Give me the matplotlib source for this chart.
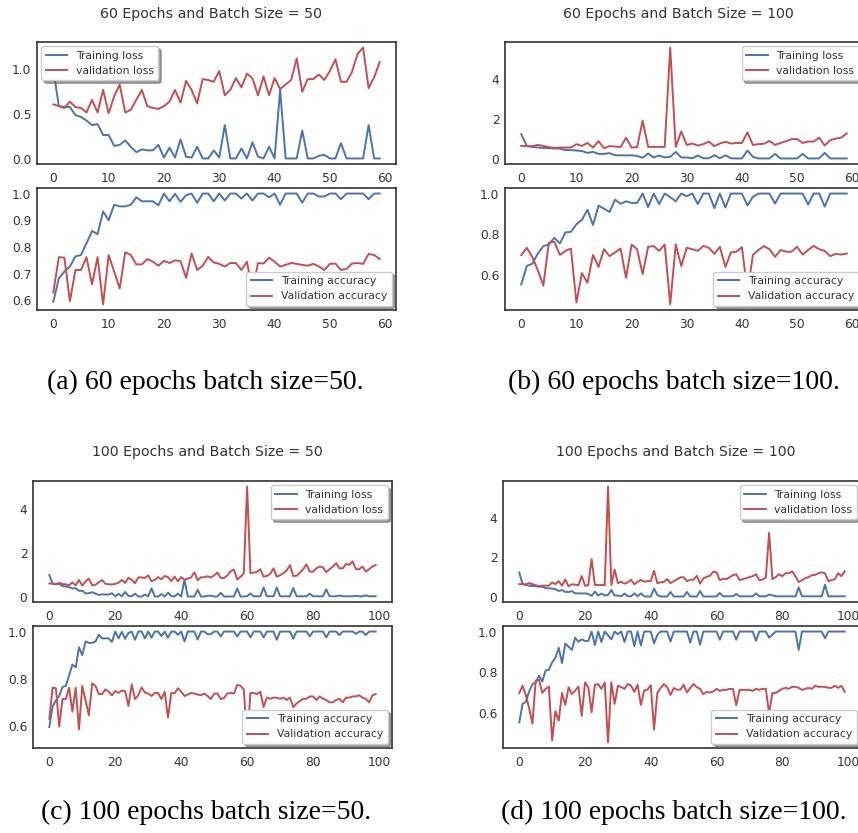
import matplotlib
matplotlib.use("Agg")
import matplotlib.pyplot as plt
import numpy as np

# ---- data ----
# 60 epochs, batch 50
tl_a = [1.00, 0.59, 0.58, 0.58, 0.49, 0.47, 0.43, 0.38, 0.39, 0.27,
        0.27, 0.15, 0.16, 0.21, 0.14, 0.08, 0.11, 0.10, 0.10, 0.16,
        0.02, 0.13, 0.02, 0.22, 0.03, 0.02, 0.14, 0.01, 0.01, 0.10,
        0.02, 0.38, 0.01, 0.01, 0.12, 0.01, 0.19, 0.03, 0.01, 0.14,
        0.01, 0.77, 0.01, 0.01, 0.01, 0.32, 0.01, 0.01, 0.04, 0.05,
        0.01, 0.01, 0.18, 0.01, 0.01, 0.01, 0.01, 0.38, 0.01, 0.01]
vl_a = [0.61, 0.59, 0.57, 0.64, 0.58, 0.57, 0.52, 0.66, 0.52, 0.77,
        0.51, 0.70, 0.83, 0.52, 0.55, 0.66, 0.77, 0.59, 0.57, 0.56,
        0.59, 0.64, 0.77, 0.63, 0.87, 0.77, 0.62, 0.89, 0.88, 0.86,
        0.98, 0.71, 0.77, 0.90, 0.80, 0.95, 0.90, 0.71, 0.92, 0.71,
        0.90, 0.78, 0.83, 0.88, 1.12, 0.75, 0.89, 0.89, 0.94, 0.88,
        0.98, 1.11, 0.86, 0.86, 0.97, 1.17, 1.24, 0.79, 0.91, 1.08]
ta_a = [0.595, 0.683, 0.708, 0.727, 0.765, 0.770, 0.814, 0.860, 0.848, 0.933,
        0.900, 0.958, 0.952, 0.952, 0.958, 0.986, 0.971, 0.971, 0.971, 0.956,
        1.000, 0.971, 0.999, 0.969, 0.994, 1.000, 0.965, 1.000, 1.000, 0.971,
        1.000, 0.974, 1.000, 1.000, 0.981, 1.000, 0.974, 1.000, 1.000, 0.986,
        1.000, 0.958, 1.000, 1.000, 1.000, 0.966, 1.000, 1.000, 0.989, 0.989,
        1.000, 1.000, 0.979, 1.000, 1.000, 1.000, 1.000, 0.979, 1.000, 1.000]
va_a = [0.630, 0.762, 0.760, 0.597, 0.714, 0.714, 0.762, 0.660, 0.762, 0.585,
        0.770, 0.708, 0.645, 0.780, 0.770, 0.735, 0.735, 0.755, 0.745, 0.730,
        0.748, 0.740, 0.750, 0.747, 0.685, 0.776, 0.714, 0.730, 0.763, 0.742,
        0.737, 0.727, 0.740, 0.740, 0.714, 0.745, 0.635, 0.740, 0.738, 0.760,
        0.745, 0.727, 0.733, 0.740, 0.737, 0.733, 0.730, 0.737, 0.727, 0.714,
        0.737, 0.738, 0.714, 0.718, 0.738, 0.740, 0.737, 0.774, 0.770, 0.755]

# 60 epochs, batch 100
tl_b = [1.24, 0.65, 0.60, 0.57, 0.55, 0.54, 0.52, 0.52, 0.44, 0.44,
        0.42, 0.39, 0.30, 0.35, 0.25, 0.25, 0.29, 0.18, 0.18, 0.17,
        0.18, 0.15, 0.05, 0.27, 0.07, 0.17, 0.07, 0.10, 0.35, 0.07,
        0.07, 0.03, 0.17, 0.03, 0.03, 0.18, 0.03, 0.18, 0.03, 0.02,
        0.02, 0.42, 0.10, 0.02, 0.02, 0.02, 0.25, 0.02, 0.02, 0.02,
        0.02, 0.25, 0.02, 0.02, 0.02, 0.30, 0.02, 0.02, 0.02, 0.02]
vl_b = [0.65, 0.64, 0.64, 0.70, 0.65, 0.59, 0.55, 0.57, 0.57, 0.57,
        0.74, 0.65, 0.80, 0.57, 0.89, 0.54, 0.64, 0.62, 0.59, 1.06,
        0.57, 0.59, 1.92, 0.60, 0.60, 0.60, 0.60, 5.60, 0.60, 1.38,
        0.70, 0.77, 0.67, 0.74, 0.87, 0.64, 0.77, 0.86, 0.77, 0.80,
        0.80, 1.33, 0.70, 0.74, 0.76, 0.90, 0.70, 0.80, 0.89, 0.99,
        1.00, 0.80, 0.87, 0.87, 1.07, 0.67, 0.94, 1.02, 1.07, 1.28]
ta_b = [0.556, 0.646, 0.657, 0.707, 0.743, 0.751, 0.784, 0.756, 0.810, 0.813,
        0.850, 0.872, 0.921, 0.846, 0.941, 0.926, 0.910, 0.970, 0.950, 0.962,
        0.954, 0.954, 1.000, 0.934, 1.000, 0.949, 1.000, 0.982, 0.962, 1.000,
        0.987, 1.000, 0.949, 1.000, 1.000, 0.929, 1.000, 0.932, 1.000, 1.000,
        1.000, 0.942, 0.984, 1.000, 1.000, 1.000, 0.951, 1.000, 1.000, 1.000,
        1.000, 1.000, 0.946, 1.000, 1.000, 0.936, 1.000, 1.000, 1.000, 1.000]
va_b = [0.699, 0.735, 0.690, 0.625, 0.550, 0.760, 0.764, 0.700, 0.720, 0.731,
        0.468, 0.611, 0.564, 0.700, 0.641, 0.728, 0.694, 0.712, 0.731, 0.588,
        0.751, 0.728, 0.606, 0.740, 0.743, 0.720, 0.751, 0.458, 0.752, 0.646,
        0.735, 0.728, 0.720, 0.744, 0.735, 0.705, 0.740, 0.641, 0.712, 0.716,
        0.738, 0.520, 0.700, 0.724, 0.743, 0.728, 0.690, 0.724, 0.716, 0.716,
        0.740, 0.702, 0.724, 0.744, 0.728, 0.720, 0.694, 0.705, 0.702, 0.707]

# 100 epoch runs: first 60 epochs look the same as the 60 epoch runs,
# these are epochs 60..99
tl_c_end = [0.02, 0.15, 0.02, 0.02, 0.02, 0.42, 0.02, 0.02, 0.02, 0.42,
            0.02, 0.02, 0.02, 0.02, 0.40, 0.02, 0.02, 0.02, 0.02, 0.14,
            0.02, 0.02, 0.02, 0.02, 0.34, 0.02, 0.02, 0.02, 0.06, 0.02,
            0.02, 0.02, 0.02, 0.04, 0.02, 0.02, 0.06, 0.02, 0.02, 0.02]
vl_c_end = [5.05, 1.08, 1.10, 1.14, 1.26, 0.92, 0.95, 1.05, 1.30, 0.92,
            0.98, 1.08, 1.20, 1.45, 0.95, 0.96, 1.10, 1.26, 1.48, 1.15,
            1.15, 1.30, 1.38, 1.35, 1.12, 1.26, 1.38, 1.54, 1.30, 1.30,
            1.50, 1.46, 1.62, 1.26, 1.26, 1.38, 1.15, 1.26, 1.38, 1.45]
ta_c_end = [1.000, 0.975, 1.000, 1.000, 1.000, 0.975, 1.000, 1.000, 1.000, 0.965,
            1.000, 1.000, 1.000, 1.000, 0.970, 1.000, 1.000, 1.000, 1.000, 0.980,
            1.000, 1.000, 1.000, 1.000, 0.975, 1.000, 1.000, 1.000, 0.985, 1.000,
            1.000, 1.000, 1.000, 0.990, 1.000, 1.000, 0.985, 1.000, 1.000, 1.000]
va_c_end = [0.530, 0.740, 0.740, 0.735, 0.745, 0.680, 0.720, 0.715, 0.720, 0.720,
            0.715, 0.720, 0.710, 0.720, 0.680, 0.695, 0.705, 0.715, 0.715, 0.725,
            0.725, 0.710, 0.725, 0.715, 0.710, 0.700, 0.700, 0.710, 0.715, 0.700,
            0.720, 0.720, 0.725, 0.725, 0.730, 0.720, 0.715, 0.700, 0.730, 0.735]

tl_d_end = [0.03, 0.20, 0.03, 0.03, 0.03, 0.03, 0.15, 0.03, 0.03, 0.03,
            0.03, 0.03, 0.18, 0.03, 0.03, 0.03, 0.12, 0.08, 0.03, 0.03,
            0.03, 0.03, 0.03, 0.03, 0.03, 0.48, 0.03, 0.03, 0.03, 0.03,
            0.03, 0.03, 0.03, 0.62, 0.03, 0.03, 0.03, 0.03, 0.03, 0.03]
vl_d_end = [1.25, 0.85, 0.92, 0.90, 1.00, 1.10, 1.15, 0.85, 0.90, 0.95,
            1.00, 1.05, 1.15, 0.85, 0.88, 0.98, 3.25, 0.90, 1.00, 1.15,
            1.05, 1.20, 1.20, 1.30, 1.05, 0.75, 0.85, 0.95, 1.00, 1.10,
            1.12, 1.20, 1.25, 1.20, 0.80, 0.85, 0.90, 1.20, 1.05, 1.30]
ta_d_end = [1.000, 0.960, 1.000, 1.000, 1.000, 1.000, 0.960, 1.000, 1.000, 1.000,
            1.000, 1.000, 0.955, 1.000, 1.000, 1.000, 0.970, 0.985, 1.000, 1.000,
            1.000, 1.000, 1.000, 1.000, 1.000, 0.910, 1.000, 1.000, 1.000, 1.000,
            1.000, 1.000, 1.000, 0.967, 1.000, 1.000, 1.000, 1.000, 1.000, 1.000]
va_d_end = [0.720, 0.710, 0.715, 0.715, 0.720, 0.720, 0.640, 0.715, 0.715, 0.715,
            0.715, 0.710, 0.720, 0.715, 0.720, 0.720, 0.600, 0.700, 0.700, 0.710,
            0.720, 0.725, 0.720, 0.730, 0.730, 0.725, 0.715, 0.720, 0.725, 0.720,
            0.735, 0.730, 0.730, 0.730, 0.725, 0.725, 0.735, 0.725, 0.735, 0.705]

titles = ["60 Epochs and Batch Size = 50", "60 Epochs and Batch Size = 100",
          "100 Epochs and Batch Size = 50", "100 Epochs and Batch Size = 100"]
captions = ["(a) 60 epochs batch size=50.", "(b) 60 epochs batch size=100.",
            "(c) 100 epochs batch size=50.", "(d) 100 epochs batch size=100."]
loss_ticks = [[0.0, 0.5, 1.0], [0, 2, 4], [0, 2, 4], [0, 2, 4]]
acc_ticks = [[0.6, 0.7, 0.8, 0.9, 1.0], [0.6, 0.8, 1.0], [0.6, 0.8, 1.0], [0.6, 0.8, 1.0]]

runs = [
    (tl_a, vl_a, ta_a, va_a),
    (tl_b, vl_b, ta_b, va_b),
    (tl_a + tl_c_end, vl_a + vl_c_end, ta_a + ta_c_end, va_a + va_c_end),
    (tl_b + tl_d_end, vl_b + vl_d_end, ta_b + ta_d_end, va_b + va_d_end),
]

BLUE = "#4C72B0"
RED = "#C44E52"
W, H = 858, 833

# pixel boxes (left, right, loss top, loss bottom, acc top, acc bottom)
boxes = [(37, 396, 42, 164, 188, 310),
         (505, 863, 42, 164, 188, 310),
         (33, 392, 481, 602, 626, 748),
         (503, 861, 481, 602, 626, 748)]
title_pos = [(211, 14), (678, 14), (207, 452), (676, 452)]
cap_pos = [(205, 382), (674, 382), (206, 812), (674, 812)]
loss_loc = ["upper left", "upper right", "upper right", "upper right"]


def add_ax(fig, l, r, t, b):
    return fig.add_axes([l / W, 1 - b / H, (r - l) / W, (b - t) / H])


def style(ax, yt):
    for s in ax.spines.values():
        s.set_color("#333333")
        s.set_linewidth(1.2)
    ax.tick_params(length=0, labelsize=8.8, colors="#333333")
    ax.tick_params(axis="x", pad=6)
    ax.tick_params(axis="y", pad=4)
    ax.set_yticks(yt)


def legend(ax, loc):
    lg = ax.legend(loc=loc, fontsize=7.8, frameon=True, shadow=True,
                   fancybox=True, borderaxespad=0.4)
    lg.get_frame().set_edgecolor("#cccccc")
    lg.get_frame().set_facecolor("white")
    for t in lg.get_texts():
        t.set_color("#333333")


fig = plt.figure(figsize=(W / 100, H / 100), dpi=100)

for i, (tl, vl, ta, va) in enumerate(runs):
    l, r, lt, lb, at, ab = boxes[i]
    ep = np.arange(len(tl))

    ax1 = add_ax(fig, l, r, lt, lb)
    ax1.plot(ep, tl, color=BLUE, lw=1.4, label="Training loss")
    ax1.plot(ep, vl, color=RED, lw=1.4, label="validation loss")
    style(ax1, loss_ticks[i])
    legend(ax1, loss_loc[i])

    ax2 = add_ax(fig, l, r, at, ab)
    ax2.plot(ep, ta, color=BLUE, lw=1.4, label="Training accuracy")
    ax2.plot(ep, va, color=RED, lw=1.4, label="Validation accuracy")
    style(ax2, acc_ticks[i])
    legend(ax2, "lower right")

    fig.text(title_pos[i][0] / W, 1 - title_pos[i][1] / H, titles[i],
             ha="center", va="center", fontsize=10.2, color="#333333")
    fig.text(cap_pos[i][0] / W, 1 - cap_pos[i][1] / H, captions[i],
             ha="center", va="center", fontsize=20, family="Liberation Serif")

fig.savefig("out.png", dpi=100)
